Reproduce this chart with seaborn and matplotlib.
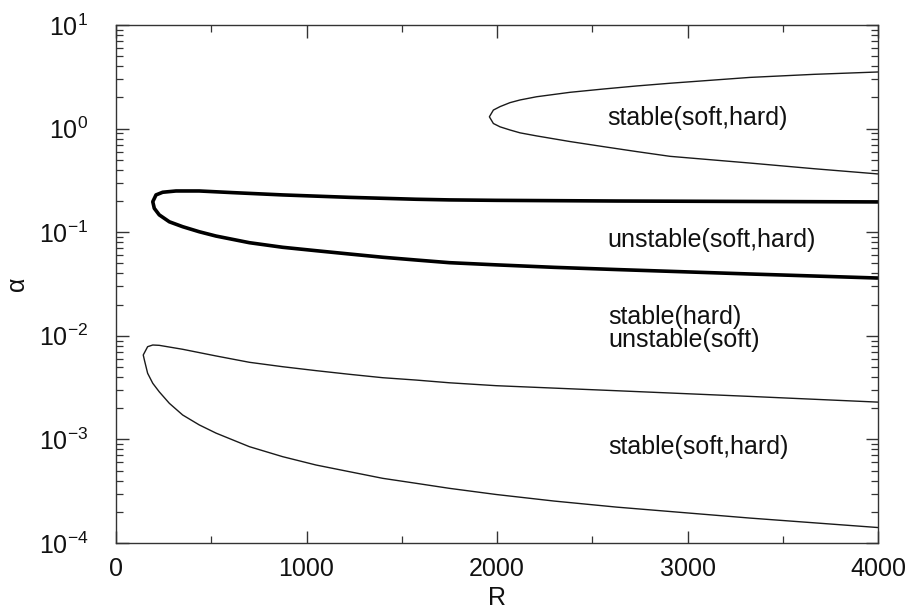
import numpy as np
import pandas as pd
import matplotlib
matplotlib.use("Agg")
import matplotlib.pyplot as plt
import matplotlib.ticker as mticker
import seaborn as sns

# ---- data (each closed-nose curve: upper branch right->left, then lower branch left->right) ----
R_top = [4000, 3664, 3328, 2908, 2733, 2558, 2383, 2208, 2121, 2068, 2016, 1981, 1960,
         1981, 2016, 2068, 2121, 2208, 2383, 2558, 2733, 2908, 3328, 3664, 4000]
A_top = [3.52, 3.34, 3.12, 2.74, 2.58, 2.41, 2.24, 2.03, 1.89, 1.78, 1.63, 1.51, 1.30,
         1.12, 1.04, 0.97, 0.91, 0.85, 0.75, 0.67, 0.60, 0.54, 0.465, 0.41, 0.365]

R_mid = [4000, 3328, 2628, 1995, 1750, 1575, 1225, 875, 613, 437, 315, 245, 210, 193,
         201, 227, 280, 350, 437, 525, 700, 875, 1050, 1225, 1400, 1575, 1750, 1995, 2300, 2628, 3328, 4000]
A_mid = [0.196, 0.198, 0.200, 0.203, 0.205, 0.208, 0.217, 0.229, 0.241, 0.250, 0.250, 0.243, 0.229, 0.197,
         0.170, 0.147, 0.126, 0.113, 0.101, 0.0918, 0.0792, 0.0715, 0.0663, 0.0616, 0.0573, 0.0539, 0.0508,
         0.0484, 0.0458, 0.0436, 0.0395, 0.0361]

R_bot = [4000, 3328, 2628, 1995, 1750, 1575, 1400, 1225, 1050, 875, 700, 525, 350, 227, 193, 166, 143,
         149, 166, 193, 227, 280, 350, 437, 525, 700, 875, 1050, 1225, 1400, 1575, 1750, 1995, 2300, 2628, 3328, 4000]
A_bot = [0.00229, 0.0026, 0.00295, 0.0033, 0.00352, 0.00374, 0.00394, 0.00425, 0.00461, 0.00503, 0.00555,
         0.00639, 0.00741, 0.00809, 0.00815, 0.00785, 0.00653,
         0.00584, 0.00435, 0.00348, 0.00288, 0.00223, 0.00172, 0.00138, 0.00115, 0.000851, 0.000681,
         0.000566, 0.000488, 0.000421, 0.000377, 0.000337, 0.000294, 0.000254, 0.000222, 0.000174, 0.000141]

labels = ["stable(soft,hard)", "unstable(soft,hard)", "stable(hard)", "unstable(soft)", "stable(soft,hard)"]
label_R = [2577, 2577, 2585, 2585, 2585]
label_A = [1.26, 0.084, 0.0152, 0.0091, 0.00085]

x_ticks = [0, 1000, 2000, 3000, 4000]

sns.set_theme(style="ticks")
plt.rcParams['font.family'] = ['Liberation Sans', 'DejaVu Sans']
plt.rcParams['mathtext.default'] = 'regular'

fig = plt.figure(figsize=(9.09, 6.14), dpi=100)
ax = fig.add_axes([116/909, 1-543/614, (878-116)/909, (543-25)/614])

df_top = pd.DataFrame({"R": R_top, "a": A_top})
df_mid = pd.DataFrame({"R": R_mid, "a": A_mid})
df_bot = pd.DataFrame({"R": R_bot, "a": A_bot})

sns.lineplot(data=df_top, x="R", y="a", sort=False, estimator=None, color="#1a1a1a", lw=1.0, ax=ax)
sns.lineplot(data=df_mid, x="R", y="a", sort=False, estimator=None, color="#000000", lw=2.6, ax=ax)
sns.lineplot(data=df_bot, x="R", y="a", sort=False, estimator=None, color="#1a1a1a", lw=1.0, ax=ax)
for ln in ax.lines:
    ln.set_solid_joinstyle("round")
    ln.set_solid_capstyle("butt")

ax.set_yscale("log")
ax.set_xlim(0, 4000)
ax.set_ylim(1e-4, 1e1)
ax.set_xticks(x_ticks)
ax.set_xticklabels([str(t) for t in x_ticks])
ax.xaxis.set_minor_locator(mticker.MultipleLocator(500))
ax.yaxis.set_major_locator(mticker.LogLocator(base=10, numticks=10))
ax.yaxis.set_minor_locator(mticker.LogLocator(base=10, subs=np.arange(2, 10), numticks=20))
ax.yaxis.set_minor_formatter(mticker.NullFormatter())

ax.tick_params(which="both", direction="in", top=True, right=True, colors="#333333",
               labelcolor="#111111", labelsize=18)
ax.tick_params(which="major", length=9, width=1.0)
ax.tick_params(which="minor", length=5, width=0.9)
ax.tick_params(axis="x", which="major", pad=10)
ax.tick_params(axis="y", which="major", pad=20)
for s in ax.spines.values():
    s.set_color("#333333")
    s.set_linewidth(1.0)

ax.set_xlabel("R", fontsize=18, labelpad=4, color="#111111")
ax.set_ylabel("α", fontsize=18, labelpad=7, color="#111111")

for t, xr, ya in zip(labels, label_R, label_A):
    ax.text(xr, ya, t, ha="left", va="center", fontsize=18, color="#111111")

fig.savefig("out.png", dpi=100)
